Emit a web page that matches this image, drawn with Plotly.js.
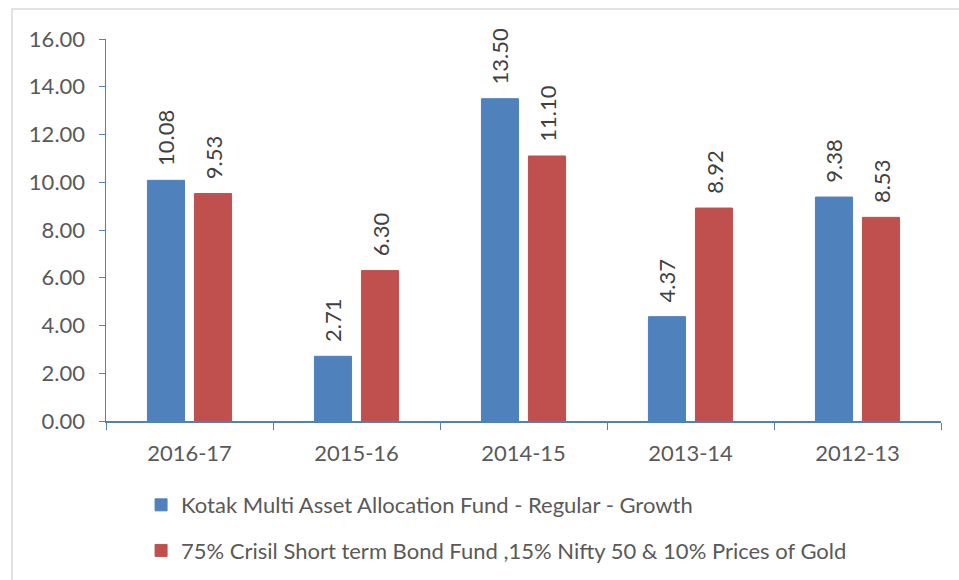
<!DOCTYPE html>
<html>
<head>
<meta charset="utf-8">
<script src="https://cdn.plot.ly/plotly-3.0.1.min.js"></script>
<style>html,body{margin:0;padding:0;background:#fff;}#chart{width:959px;height:580px;}</style>
</head>
<body>
<div id="chart"></div>
<script>
var categories = ["2016-17", "2015-16", "2014-15", "2013-14", "2012-13"];
var seriesNames = ["Kotak Multi Asset Allocation Fund - Regular - Growth",
                   "75% Crisil Short term Bond Fund ,15% Nifty 50 & 10% Prices of Gold"];
var fundValues = [10.08, 2.71, 13.50, 4.37, 9.38];
var benchmarkValues = [9.53, 6.30, 11.10, 8.92, 8.53];
var yTickVals = [0, 2, 4, 6, 8, 10, 12, 14, 16];

var FONT = "Lato, 'Liberation Sans', sans-serif";
var TXT = "#595959";
var AXIS = "#4F81BD";
var PAD = "\u00A0\u00A0";

function barTrace(name, vals, color, group) {
  return {
    type: "bar", name: name, x: categories, y: vals,
    marker: {color: color, line: {color: color, width: 1}},
    text: vals.map(function(v){return PAD + v.toFixed(2);}),
    textposition: "outside", textangle: -90, constraintext: "none",
    textfont: {family: FONT, size: 22, color: "#404040"},
    cliponaxis: false,
    legendgroup: group,
    hoverinfo: "x+y"
  };
}

var data = [
  barTrace(seriesNames[0], fundValues, "#4F81BD", "a"),
  barTrace(seriesNames[1], benchmarkValues, "#C0504D", "b")
];

var layout = {
  width: 959, height: 580,
  margin: {l: 106, r: 18, t: 39, b: 159, pad: 0, autoexpand: false},
  paper_bgcolor: "#fff", plot_bgcolor: "#fff",
  font: {family: FONT, size: 22, color: TXT},
  barmode: "group", bargap: 0.437, bargroupgap: 0.21,
  showlegend: true,
  legend: {orientation: "v", x: 0.042, xanchor: "left", y: -0.165, yanchor: "top",
           traceorder: "grouped", tracegroupgap: 14,
           font: {family: FONT, size: 22, color: TXT}, bgcolor: "rgba(0,0,0,0)"},
  xaxis: {type: "category", tickson: "boundaries", ticks: "outside", ticklen: 7,
          tickcolor: AXIS, showline: true, linecolor: AXIS, linewidth: 1.5,
          ticklabelstandoff: 12,
          showgrid: false, zeroline: false, tickfont: {family: FONT, size: 22, color: TXT}},
  yaxis: {range: [0, 16], tickvals: yTickVals, tickformat: ".2f", ticks: "outside", ticklen: 6,
          tickcolor: AXIS, showline: true, linecolor: AXIS, linewidth: 1.5,
          ticklabelstandoff: 9,
          showgrid: false, zeroline: false, tickfont: {family: FONT, size: 22, color: TXT}},
  shapes: [{type: "rect", xref: "paper", yref: "paper",
            x0: -0.1126, x1: 1.2, y0: -1, y1: 1.0785,
            line: {color: "#D9D9D9", width: 1.5}, fillcolor: "rgba(0,0,0,0)", layer: "below"}]
};

Plotly.newPlot("chart", data, layout, {displayModeBar: false, staticPlot: true});
</script>
</body>
</html>
